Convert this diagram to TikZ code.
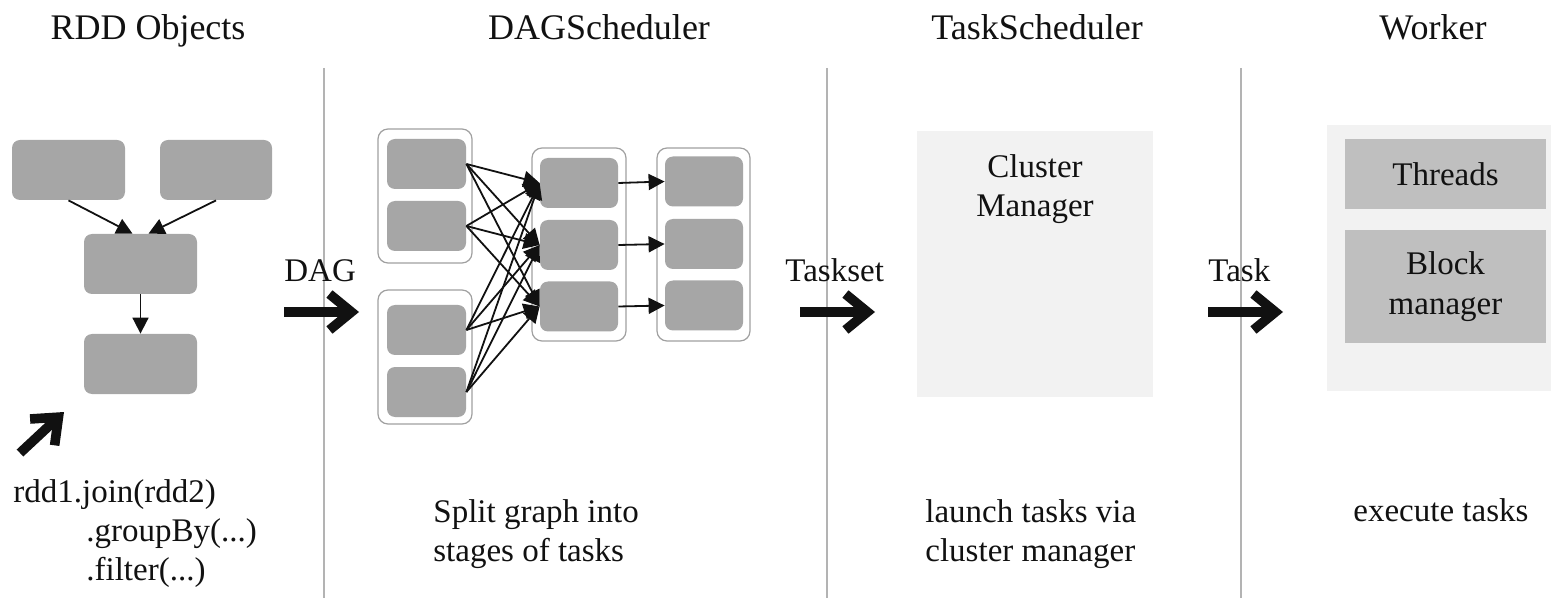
\documentclass[tikz,border=0pt]{standalone}
\usepackage{fontspec}
\setmainfont{Liberation Serif}
\usetikzlibrary{arrows.meta}
\definecolor{boxgray}{HTML}{A6A6A6}
\definecolor{contgray}{HTML}{A0A0A0}
\definecolor{sepgray}{HTML}{B3B3B3}
\definecolor{lightbg}{HTML}{F2F2F2}
\definecolor{wgray}{HTML}{BFBFBF}
\definecolor{ink}{HTML}{111111}
\tikzset{
  sz/.style 2 args={minimum width=#1*0.5pt, minimum height=#2*0.5pt},
  inbox/.style={fill=boxgray, draw=none, rounded corners=4pt, inner sep=0},
  cont/.style={draw=contgray, line width=0.6pt, rounded corners=5pt, fill=white, inner sep=0},
  arr/.style={draw=ink, line width=0.9pt, -{Triangle[length=8pt,width=8pt]}},
  fat/.style={draw=ink, line width=4.8pt, -{Straight Barb[length=11pt,width=18pt]}},
  sepline/.style={draw=sepgray, line width=1pt},
  txt/.style={font=\fontsize{16.5}{20}\selectfont, inner sep=0, text=ink},
  hdr/.style={font=\fontsize{18}{22}\selectfont, inner sep=0, text=ink},
  flat/.style={draw=none, inner sep=0}
}
\begin{document}
\begin{tikzpicture}[x=0.5pt,y=-0.5pt]
\useasboundingbox (0,0) rectangle (1551,598);

% headers
\node[hdr, anchor=base] (h1) at (148,40) {RDD Objects};
\node[hdr, anchor=base] (h2) at (599,40) {DAGScheduler};
\node[hdr, anchor=base] (h3) at (1037,40) {TaskScheduler};
\node[hdr, anchor=base] (h4) at (1433,40) {Worker};

% separators
\draw[sepline] (324,68) -- (324,598);
\draw[sepline] (827,68) -- (827,598);
\draw[sepline] (1241,68) -- (1241,598);

% RDD objects
\node[inbox, sz={113}{60}] (r1) at (68.5,170) {};
\node[inbox, sz={112}{60}] (r2) at (216,170) {};
\node[inbox, sz={113}{60}] (r3) at (140.5,264) {};
\node[inbox, sz={113}{60}] (r4) at (140.5,364) {};
\draw[arr] (r1.south) -- ([xshift=-4pt]r3.north);
\draw[arr] (r2.south) -- ([xshift=4pt]r3.north);
\draw[arr] (r3.south) -- (r4.north);

\coordinate (pa) at (20,453);
\coordinate (pb) at (64,412);
\draw[fat] (pa) -- (pb);

\node[txt, anchor=base west] (c1) at (13,502) {rdd1.join(rdd2)};
\node[txt, anchor=base west] (c2) at (86,541) {.groupBy(...)};
\node[txt, anchor=base west] (c3) at (86,580) {.filter(...)};

% DAG arrow
\node[txt, anchor=base west] (ldag) at (284,282) {DAG};
\coordinate (d0) at (284,312);
\coordinate (d1) at (359,312);
\draw[fat] (d0) -- (d1);

% DAGScheduler
\node[cont, sz={94}{134}] (k1) at (425,196) {};
\node[cont, sz={94}{134}] (k2) at (425,357) {};
\node[cont, sz={94}{193}] (k3) at (579,244.5) {};
\node[cont, sz={93}{193}] (k4) at (703.5,244.5) {};
\node[inbox, sz={79}{50}] (a1) at (426.5,164) {};
\node[inbox, sz={79}{50}] (a2) at (426.5,226) {};
\node[inbox, sz={79}{50}] (a3) at (426.5,330) {};
\node[inbox, sz={79}{50}] (a4) at (426.5,392) {};
\node[inbox, sz={78}{50}] (b1) at (579,183) {};
\node[inbox, sz={78}{50}] (b2) at (579,245) {};
\node[inbox, sz={78}{50}] (b3) at (579,306.5) {};
\node[inbox, sz={78}{50}] (e1) at (704,181.5) {};
\node[inbox, sz={78}{50}] (e2) at (704,244) {};
\node[inbox, sz={78}{50}] (e3) at (704,305.5) {};
\foreach \s in {a1,a2,a3,a4}
  \foreach \t in {b1,b2,b3}
    \draw[arr] (\s.east) -- (\t.west);
\draw[arr] (b1.east) -- (e1.west);
\draw[arr] (b2.east) -- (e2.west);
\draw[arr] (b3.east) -- (e3.west);

\node[txt, anchor=base west] (s1) at (433,522) {Split graph into};
\node[txt, anchor=base west] (s2) at (433,561) {stages of tasks};

% Taskset arrow
\node[txt, anchor=base west] (lts) at (785,282) {Taskset};
\coordinate (t0) at (800,312);
\coordinate (t1) at (875,312);
\draw[fat] (t0) -- (t1);

% TaskScheduler
\node[flat, fill=lightbg, sz={236}{266}] (cm) at (1035,264) {};
\node[txt, anchor=base] (cm1) at (1035,178) {Cluster};
\node[txt, anchor=base] (cm2) at (1035,217) {Manager};
\node[txt, anchor=base west] (u1) at (925,522) {launch tasks via};
\node[txt, anchor=base west] (u2) at (925,561) {cluster manager};

% Task arrow
\node[txt, anchor=base west] (lt) at (1208,282) {Task};
\coordinate (w0) at (1208,312);
\coordinate (w1) at (1283,312);
\draw[fat] (w0) -- (w1);

% Worker
\node[flat, fill=lightbg, sz={224}{266}] (wk) at (1439,258) {};
\node[flat, fill=wgray, sz={201}{70}, txt] (th) at (1445.5,174) {Threads};
\node[flat, fill=wgray, sz={201}{113}, txt, align=center] (bm) at (1445.5,286.5) {Block\\manager};
\node[txt, anchor=base west] (x1) at (1353,521) {execute tasks};
\end{tikzpicture}
\end{document}
